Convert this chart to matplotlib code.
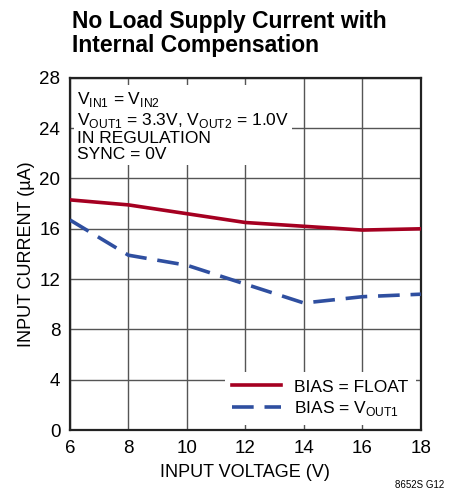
import matplotlib
matplotlib.use("Agg")
import matplotlib.pyplot as plt

plt.rcParams['font.family'] = ['Liberation Sans', 'DejaVu Sans']

voltage = [6, 8, 10, 12, 14, 16, 18]
i_float = [18.3, 17.9, 17.2, 16.5, 16.2, 15.9, 16.0]
i_vout1 = [16.7, 13.9, 13.1, 11.6, 10.1, 10.6, 10.8]
xticks = [6, 8, 10, 12, 14, 16, 18]
yticks = [0, 4, 8, 12, 16, 20, 24, 28]

fig = plt.figure(figsize=(4.53, 4.96), dpi=100)
ax = fig.add_axes([0.1545, 0.133, 0.7745, 0.710])

ax.plot(voltage, i_float, color='#a50021', lw=2.6, label='BIAS = FLOAT', zorder=3)
ax.plot(voltage, i_vout1, color='#2f4fa0', lw=2.6, dashes=(6, 3), label='BIAS = V$_{\\mathregular{OUT1}}$', zorder=3)

ax.set_xlim(6, 18)
ax.set_ylim(0, 28)
ax.set_xticks(xticks)
ax.set_yticks(yticks)
ax.grid(True, color='#555555', lw=1.0)
ax.tick_params(length=0, labelsize=13.5, pad=7)
for s in ax.spines.values():
    s.set_linewidth(1.6)
    s.set_color('#222222')

ax.set_xlabel('INPUT VOLTAGE (V)', fontsize=13, labelpad=5)
ax.set_ylabel('INPUT CURRENT (\u00b5A)', fontsize=13, labelpad=3)

ax.text(0.02, 0.965,
        'V$_{\\mathregular{IN1}}$ = V$_{\\mathregular{IN2}}$\n'
        'V$_{\\mathregular{OUT1}}$ = 3.3V, V$_{\\mathregular{OUT2}}$ = 1.0V\n'
        'IN REGULATION\nSYNC = 0V',
        transform=ax.transAxes, va='top', ha='left', fontsize=12.5, linespacing=1.1,
        bbox=dict(facecolor='white', edgecolor='none', pad=2), zorder=4)

leg = ax.legend(loc='lower right', fontsize=12.5, frameon=True, fancybox=False,
                handlelength=2.8, borderaxespad=0.3, labelspacing=0.25)
leg.get_frame().set_edgecolor('none')
leg.get_frame().set_alpha(1)

fig.text(0.158, 0.98, 'No Load Supply Current with\nInternal Compensation',
         fontsize=16.5, fontweight='bold', va='top', ha='left', linespacing=1.05)
fig.text(0.98, 0.012, '8652S G12', fontsize=7, ha='right', va='bottom')

fig.savefig('out.png', dpi=100)
